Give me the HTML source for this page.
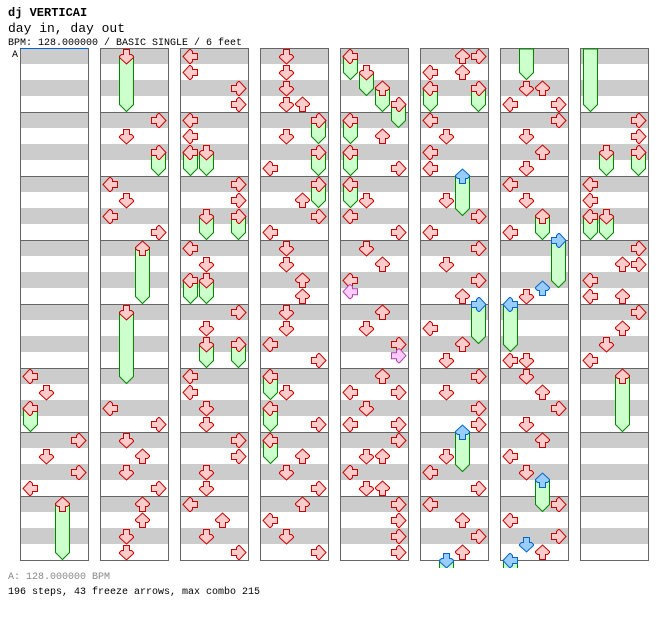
<!DOCTYPE html>
<html><head><meta charset="utf-8"><style>
html,body{margin:0;padding:0;background:#fff;width:672px;height:620px;overflow:hidden}
svg{display:block}
</style></head><body>
<svg id="s" width="672" height="620" xmlns="http://www.w3.org/2000/svg" font-family="Liberation Mono, monospace">
<text x="8" y="16" font-size="12" font-weight="bold">dj VERTICAI</text>
<text x="8" y="32" font-size="13">day in, day out</text>
<text x="8" y="45" font-size="10">BPM: 128.000000 / BASIC SINGLE / 6 feet</text>
<text x="12" y="57" font-size="10">A</text>
<text x="8" y="579" font-size="10" fill="#888">A: 128.000000 BPM</text>
<text x="8" y="594" font-size="10">196 steps, 43 freeze arrows, max combo 215</text>
<defs><clipPath id="cp"><rect x="0" y="0" width="672" height="568"/></clipPath></defs>
<g id="g" clip-path="url(#cp)"></g>
</svg>
<script>
var g=document.getElementById('g');var h='';
for(var c=0;c<8;c++){var L=20+80*c;
 for(var k=0;k<32;k++){ if(k%2==0) h+='<rect x="'+L+'" y="'+(48+16*k)+'" width="68" height="16" fill="#cccccc"/>';}
 for(var m=1;m<8;m++) h+='<line x1="'+L+'" x2="'+(L+68)+'" y1="'+(48.5+64*m)+'" y2="'+(48.5+64*m)+'" stroke="#666"/>';
 h+='<rect x="'+(L+0.5)+'" y="48.5" width="68" height="512" fill="none" stroke="#666"/>';
}
h+='<line x1="20" x2="88" y1="48.5" y2="48.5" stroke="#06c"/>';
var ROT={L:90,D:0,U:180,R:-90},LANE={L:0,D:1,U:2,R:3};
var COL={r:['#ffcccc','#cc0000'],b:['#99ccff','#0066cc'],p:['#ffccff','#aa44aa']};
var N=[
[0,20,'L'],[0,21,'D'],[0,22,'L','r',23],[0,24,'R'],[0,25,'D'],[0,26,'R'],[0,27,'L'],[0,28,'U','r',31],
[1,0,'D','r',3],[1,4,'R'],[1,5,'D'],[1,6,'R','r',7],[1,8,'L'],[1,9,'D'],[1,10,'L'],[1,11,'R'],[1,12,'U','r',15],[1,16,'D','r',20],[1,22,'L'],[1,23,'R'],[1,24,'D'],[1,25,'U'],[1,26,'D'],[1,27,'R'],[1,28,'U'],[1,29,'U'],[1,30,'D'],[1,31,'D'],
[2,0,'L'],[2,1,'L'],[2,2,'R'],[2,3,'R'],[2,4,'L'],[2,5,'L'],[2,6,'L','r',7],[2,6,'D','r',7],[2,8,'R'],[2,9,'R'],[2,10,'D','r',11],[2,10,'R','r',11],[2,12,'L'],[2,13,'D'],[2,14,'L','r',15],[2,14,'D','r',15],[2,16,'R'],[2,17,'D'],[2,18,'D','r',19],[2,18,'R','r',19],[2,20,'L'],[2,21,'L'],[2,22,'D'],[2,23,'D'],[2,24,'R'],[2,25,'R'],[2,26,'D'],[2,27,'D'],[2,28,'L'],[2,29,'U'],[2,30,'D'],[2,31,'R'],
[3,0,'D'],[3,1,'D'],[3,2,'D'],[3,3,'D'],[3,3,'U'],[3,4,'R','r',5],[3,5,'D'],[3,6,'R','r',7],[3,7,'L'],[3,8,'R','r',9],[3,9,'U'],[3,10,'R'],[3,11,'L'],[3,12,'D'],[3,13,'D'],[3,14,'U'],[3,15,'U'],[3,16,'D'],[3,17,'D'],[3,18,'L'],[3,19,'R'],[3,20,'L','r',21],[3,21,'D'],[3,22,'L','r',23],[3,23,'R'],[3,24,'L','r',25],[3,25,'U'],[3,26,'D'],[3,27,'R'],[3,28,'U'],[3,29,'L'],[3,30,'D'],[3,31,'R'],
[4,0,'L','r',1],[4,1,'D','r',2],[4,2,'U','r',3],[4,3,'R','r',4],[4,4,'L','r',5],[4,5,'U'],[4,6,'L','r',7],[4,7,'R'],[4,8,'L','r',9],[4,9,'D'],[4,10,'L'],[4,11,'R'],[4,12,'D'],[4,13,'U'],[4,14,'L'],[4,14.7,'L','p'],[4,16,'U'],[4,17,'D'],[4,18,'R'],[4,18.7,'R','p'],[4,20,'U'],[4,21,'L'],[4,21,'R'],[4,22,'D'],[4,23,'L'],[4,23,'R'],[4,24,'R'],[4,25,'D'],[4,25,'U'],[4,26,'L'],[4,27,'D'],[4,27,'U'],[4,28,'R'],[4,29,'R'],[4,30,'R'],[4,31,'R'],
[5,0,'U'],[5,0,'R'],[5,1,'L'],[5,1,'U'],[5,2,'L','r',3],[5,2,'R','r',3],[5,4,'L'],[5,5,'D'],[5,6,'L'],[5,7,'L'],[5,7.5,'U','b',9.5],[5,9,'D'],[5,10,'R'],[5,11,'L'],[5,12,'R'],[5,13,'D'],[5,14,'R'],[5,15,'U'],[5,15.5,'R','b',17.5],[5,17,'L'],[5,18,'U'],[5,19,'D'],[5,20,'R'],[5,21,'D'],[5,22,'R'],[5,23,'R'],[5,23.5,'U','b',25.5],[5,25,'D'],[5,26,'L'],[5,27,'R'],[5,28,'L'],[5,29,'U'],[5,30,'R'],[5,31,'U'],[5,31.5,'D','b',36],
[6,2,'D'],[6,2,'U'],[6,3,'L'],[6,3,'R'],[6,4,'R'],[6,5,'D'],[6,6,'U'],[6,7,'D'],[6,8,'L'],[6,9,'D'],[6,10,'U','r',11],[6,11,'L'],[6,11.5,'R','b',14],[6,14.5,'U','b'],[6,15,'D'],[6,15.5,'L','b',18],[6,19,'L'],[6,19,'D'],[6,20,'D'],[6,21,'U'],[6,22,'R'],[6,23,'D'],[6,24,'U'],[6,25,'L'],[6,26,'D'],[6,26.5,'U','b',28],[6,28,'R'],[6,29,'L'],[6,30,'R'],[6,30.5,'D','b'],[6,31,'U'],[6,31.5,'L','b',36],
[7,4,'R'],[7,5,'R'],[7,6,'R','r',7],[7,6,'D','r',7],[7,8,'L'],[7,9,'L'],[7,10,'L','r',11],[7,10,'D','r',11],[7,12,'R'],[7,13,'U'],[7,13,'R'],[7,14,'L'],[7,15,'L'],[7,15,'U'],[7,16,'R'],[7,17,'U'],[7,18,'D'],[7,19,'L'],[7,20,'U','r',23]
];
var CONT=[[6,'D',1],[7,'L',3]];
function fz(x,y1,y2){return '<polygon points="'+(x-7)+','+y1+' '+(x+7)+','+y1+' '+(x+7)+','+y2+' '+x+','+(y2+7)+' '+(x-7)+','+y2+'" fill="#ccffcc" stroke="#008800"/>';}
function cx(c,d){return 20+80*c+10+16*LANE[d];}
function cy(b){return 56+16*b;}
CONT.forEach(function(a){var x=cx(a[0],a[1]);h+=fz(x+0.5,49,cy(a[2])+0.5);});
N.forEach(function(n){if(n[4]!==undefined){var x=cx(n[0],n[2]);h+=fz(x+0.5,cy(n[1]),cy(n[4])+0.5);}});
var P='-3,-7 3,-7 3,-2 5,-2 7,0 7,1 0,7.5 -7,1 -7,0 -5,-2 -3,-2';
N.forEach(function(n){var x=cx(n[0],n[2])+0.5,y=cy(n[1])+0.5,col=COL[n[3]||'r'];
 h+='<polygon points="'+P+'" transform="translate('+x+','+y+') rotate('+ROT[n[2]]+')" fill="'+col[0]+'" stroke="'+col[1]+'"/>';});
g.innerHTML=h;
</script>
</body></html>
